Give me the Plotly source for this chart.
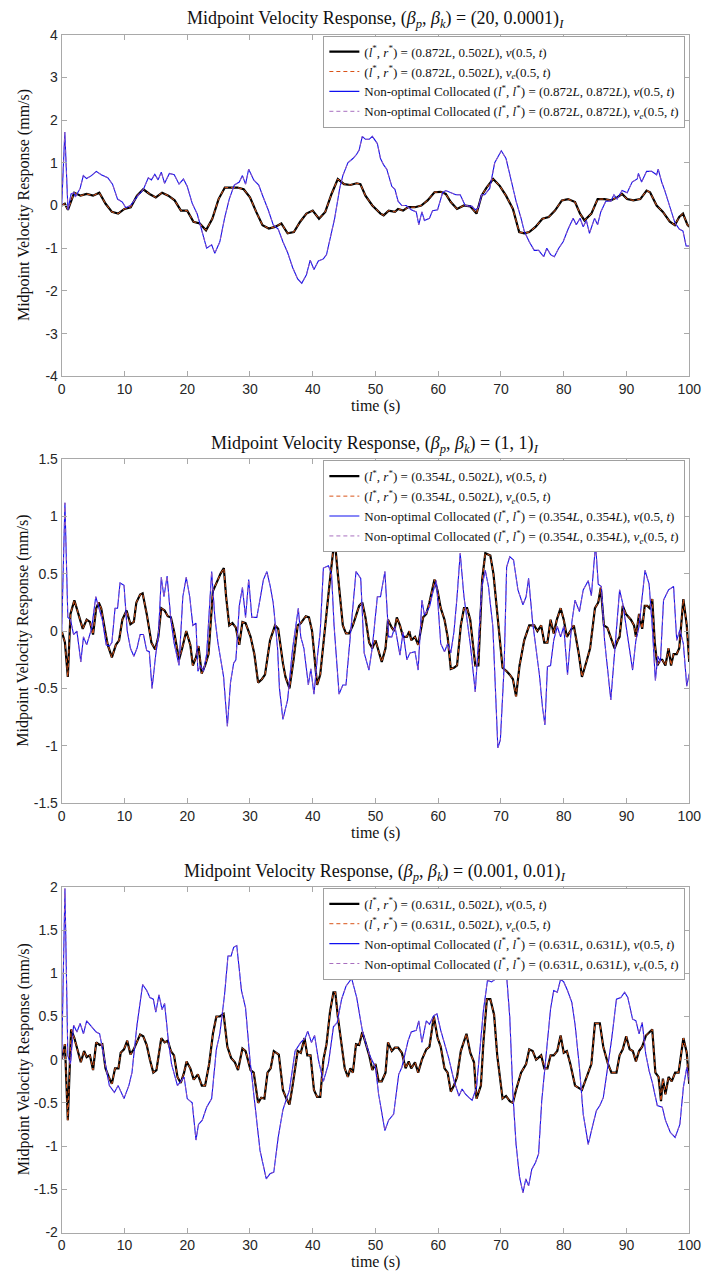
import plotly.graph_objects as go

# ---------------- data ----------------
# Panel 1: (beta_p, beta_k) = (20, 0.0001)
t_opt1 = [0, 0.5, 1, 1.5, 2, 3, 4, 5, 6, 7, 8, 9, 10, 11, 12, 13, 14, 15, 16, 17, 18, 19, 20, 21, 22, 23, 24, 25,
          26, 27, 28, 29, 30, 31, 32, 33, 34, 35, 36, 37, 38, 39, 40, 41, 42, 43, 44, 45, 46, 47, 47.6, 48.4, 49.5,
          50.8, 51.3, 52.1, 53.1, 53.6, 54.4, 55.2, 56.3, 57.3, 58.3, 59.4, 60.4, 61.2, 62, 63, 64.1, 65.1, 66.1,
          66.9, 67.7, 68.75, 69.8, 70.8, 71.9, 72.9, 73.7, 74.5, 75.5, 76.6, 77.6, 78.6, 79.7, 80.7, 81.8, 82.6,
          83.3, 84.4, 85.4, 86.5, 87.5, 88.5, 89.3, 90.1, 91.1, 92.2, 93.2, 93.75, 94.8, 95.8, 96.9, 97.7, 98.4,
          99, 99.7, 100]
v_opt1 = [0, 0.04, -0.1, 0.08, 0.3, 0.23, 0.27, 0.23, 0.3, 0.04, -0.15, -0.19, -0.08, -0.04, 0.23, 0.38, 0.27,
          0.19, 0.3, 0.23, 0.12, -0.12, -0.12, -0.38, -0.42, -0.58, -0.31, 0.15, 0.42, 0.42, 0.42, 0.38, 0.19,
          -0.15, -0.46, -0.54, -0.5, -0.42, -0.65, -0.62, -0.38, -0.19, -0.12, -0.31, -0.15, 0.27, 0.62, 0.5,
          0.48, 0.52, 0.5, 0.23, 0.0, -0.19, -0.23, -0.12, -0.15, -0.08, -0.12, -0.04, -0.04, 0.0, 0.12, 0.31,
          0.32, 0.27, 0.08, -0.08, 0.0, -0.02, -0.19, 0.23, 0.42, 0.62, 0.46, 0.23, -0.08, -0.62, -0.65, -0.62,
          -0.5, -0.31, -0.27, -0.12, 0.12, 0.15, 0.08, -0.19, -0.35, -0.19, 0.15, 0.15, 0.12, 0.19, 0.27, 0.15,
          0.12, 0.15, 0.35, 0.31, 0.0, -0.15, -0.38, -0.46, -0.27, -0.19, -0.45, -0.5]
t_non1 = [0, 0.5, 1, 1.5, 2, 2.17, 2.94, 3.45, 3.97, 4.74, 5.52, 6.3, 7.34, 8.1, 8.9, 9.67, 10.2, 10.96, 12,
          13.03, 13.8, 14.3, 14.84, 15.36, 15.87, 16.4, 17.16, 17.94, 18.7, 19.4, 20, 20.8, 21.6, 22.33, 23.1,
          23.9, 24.4, 25.2, 25.95, 26.7, 27.5, 28.3, 28.8, 29.3, 29.8, 30.6, 31.4, 32.1, 32.9, 33.7, 34.5, 35.25,
          36, 36.8, 37.6, 38.25, 39, 39.6, 40.2, 40.9, 41.7, 42.2, 42.75, 43.5, 44.3, 44.8, 45.6, 46.4, 47.0,
          47.4, 47.9, 48.4, 49.0, 49.5, 50.3, 50.8, 51.3, 51.8, 52.6, 53.1, 53.6, 54.2, 54.9, 55.7, 56.5, 56.9,
          57.4, 57.8, 58.6, 59.1, 59.9, 60.7, 61.2, 62.0, 62.8, 63.5, 64.3, 65.4, 65.9, 66.4, 66.9, 67.4, 68.2,
          69.0, 69.5, 70.05, 70.8, 71.6, 72.4, 73.2, 73.7, 74.5, 75.3, 76.0, 76.8, 77.3, 77.9, 78.5, 79.2, 79.9,
          80.7, 81.5, 82.0, 82.6, 83.1, 83.6, 84.1, 84.9, 85.4, 85.9, 86.7, 87.5, 88.0, 88.5, 89.3, 90.1, 90.9,
          91.7, 91.9, 92.4, 93.2, 94.0, 94.8, 95.05, 95.6, 96.1, 96.9, 97.7, 98.4, 99.0, 99.5, 100]
v_non1 = [0, 1.72, -0.1, 0.27, 0.3, 0.2, 0.4, 0.7, 0.63, 0.7, 0.8, 0.72, 0.65, 0.5, 0.15, 0.08, -0.05, 0.0, 0.2,
          0.38, 0.65, 0.6, 0.73, 0.6, 0.78, 0.52, 0.75, 0.72, 0.5, 0.62, 0.45, 0.05, -0.2, -0.6, -1.0, -0.92,
          -1.12, -0.85, -0.3, 0.15, 0.48, 0.55, 0.7, 0.5, 0.85, 0.6, 0.48, 0.2, -0.1, -0.45, -0.55, -0.85, -1.1,
          -1.45, -1.72, -1.82, -1.62, -1.28, -1.5, -1.3, -1.25, -1.15, -0.8, -0.3, 0.4, 0.7, 1.0, 1.1, 1.2, 1.3,
          1.62, 1.55, 1.55, 1.62, 1.45, 1.1, 0.95, 0.85, 0.45, 0.38, 0.1, 0.0, 0.0, -0.1, -0.15, -0.45, -0.15,
          -0.35, -0.3, -0.12, -0.1, 0.3, 0.35, 0.3, 0.25, 0.25, 0.0, -0.02, -0.1, -0.05, 0.25, 0.25, 0.4, 1.0,
          1.15, 1.28, 1.1, 0.6, 0.1, -0.3, -0.6, -0.85, -1.05, -1.05, -1.2, -1.0, -1.15, -1.2, -1.0, -0.85,
          -0.55, -0.3, -0.45, -0.3, -0.5, -0.35, -0.65, -0.3, -0.45, -0.15, 0.1, 0.1, 0.25, 0.15, 0.35, 0.3,
          0.55, 0.62, 0.75, 0.55, 0.8, 0.8, 0.72, 0.85, 0.55, 0.35, 0.0, -0.4, -0.55, -0.6, -0.95, -0.95]
ve_opt1 = v_opt1
ve_non1 = v_non1

# Panel 2: (beta_p, beta_k) = (1, 1)
t_opt2 = [0, 0.52, 0.98, 1.4, 2.02, 2.69, 3.36, 3.98, 4.5, 5.0, 5.5, 5.9, 6.3, 6.93, 7.34, 8.0, 8.64, 9.15, 9.67,
          10.34, 10.96, 11.5, 11.9, 12.5, 12.9, 13.55, 14.3, 14.9, 15.4, 15.87, 16.4, 16.9, 17.4, 17.9, 18.7,
          19.2, 19.85, 20.5, 20.9, 21.4, 21.8, 22.3, 22.85, 23.4, 24.1, 24.9, 25.3, 25.84, 26.2, 26.7, 27.2,
          27.76, 28.3, 28.8, 29.3, 30.1, 30.7, 31.3, 31.9, 32.4, 33.2, 34.0, 34.5, 35.25, 35.66, 36.3, 36.95,
          37.6, 38.1, 38.9, 39.4, 39.9, 40.7, 41.2, 41.7, 42.2, 42.75, 43.3, 43.6, 44.0, 44.8, 45.3, 45.8, 46.4,
          46.8, 47.4, 47.9, 48.4, 49.0, 49.5, 50.0, 50.5, 51.0, 51.6, 52.0, 52.6, 53.0, 53.4, 53.9, 54.4, 55.0,
          55.4, 55.7, 56.3, 56.8, 57.6, 58.1, 58.6, 59.4, 59.9, 60.4, 61.0, 61.5, 62.0, 62.5, 63.0, 63.6, 64.1,
          64.6, 65.1, 65.9, 66.4, 67.0, 67.5, 68.3, 68.8, 69.6, 70.25, 70.9, 71.4, 71.9, 72.4, 72.96, 73.7, 74.5,
          75.3, 75.8, 76.4, 76.9, 77.4, 77.9, 78.4, 78.9, 79.5, 80.0, 80.5, 81.05, 81.6, 82.4, 82.9, 83.7, 84.2,
          84.97, 85.5, 85.9, 86.4, 86.95, 87.6, 88.1, 88.6, 88.9, 89.4, 89.9, 90.7, 91.2, 91.5, 92.0, 92.5, 92.9,
          93.3, 93.7, 94.1, 94.5, 94.9, 95.4, 95.7, 96.2, 96.7, 97.1, 97.5, 98.0, 98.4, 99.06, 99.6, 100]
v_opt2 = [0, -0.1, -0.4, 0.15, 0.27, 0.15, 0.02, 0.1, 0.08, -0.03, 0.2, 0.25, 0.2, 0.0, -0.12, -0.23, -0.12,
          -0.08, 0.1, 0.18, 0.06, 0.08, 0.25, 0.32, 0.33, 0.15, -0.1, -0.16, -0.05, 0.2, 0.18, 0.13, 0.12, 0.0,
          -0.25, -0.15, 0.0, -0.12, -0.3, -0.23, -0.13, -0.37, -0.3, -0.2, 0.35, 0.45, 0.5, 0.55, 0.3, 0.05,
          0.07, 0.03, -0.12, 0.08, 0.07, -0.05, -0.2, -0.45, -0.42, -0.38, -0.08, 0.05, 0.02, -0.28, -0.4, -0.5,
          -0.25, 0.05, 0.07, 0.13, 0.12, 0.0, -0.47, -0.38, -0.1, 0.15, 0.45, 0.72, 0.74, 0.5, 0.05, -0.02,
          -0.02, 0.05, 0.12, 0.22, 0.25, 0.12, -0.1, -0.15, -0.08, -0.18, -0.27, -0.15, 0.1, 0.03, 0.0, 0.12,
          0.05, -0.05, -0.05, 0.0, -0.08, -0.05, -0.12, 0.12, 0.15, 0.25, 0.45, 0.35, 0.2, 0.1, -0.05, -0.33,
          -0.32, -0.3, 0.05, 0.2, 0.2, 0.1, -0.3, -0.3, 0.45, 0.68, 0.66, 0.5, 0.05, -0.32, -0.35, -0.38, -0.42,
          -0.57, -0.3, -0.08, 0.05, 0.05, 0.0, 0.05, -0.1, -0.1, 0.1, -0.02, 0.1, 0.2, 0.1, -0.05, 0.0, 0.05,
          -0.2, -0.4, -0.25, -0.15, 0.2, 0.25, 0.38, 0.05, 0.03, -0.08, -0.15, -0.08, -0.05, 0.22, 0.15, 0.1,
          0.05, -0.05, 0.15, 0.02, 0.22, 0.22, 0.2, 0.28, -0.1, -0.3, -0.25, -0.25, -0.3, -0.15, -0.3, -0.2,
          -0.2, -0.15, 0.28, 0.05, -0.27]
t_non2 = [0, 0.52, 0.98, 1.4, 1.9, 2.43, 3.05, 3.47, 3.98, 4.76, 5.43, 5.9, 6.47, 7.1, 7.6, 8.0, 8.5, 8.9, 9.3,
          9.93, 10.45, 10.96, 11.5, 12.0, 12.5, 13.03, 13.55, 13.96, 14.4, 15.0, 15.4, 15.87, 16.3, 16.8, 17.4,
          17.9, 18.7, 19.3, 19.85, 20.4, 20.9, 21.4, 21.7, 22.1, 22.6, 23.1, 23.9, 24.4, 24.9, 25.8, 26.4, 26.9,
          27.4, 27.76, 28.3, 28.8, 29.3, 29.8, 30.3, 31.1, 32.15, 32.7, 33.2, 33.7, 34.4, 34.7, 35.25, 36.0,
          36.8, 37.7, 38.1, 38.6, 39.3, 39.7, 40.2, 40.7, 41.2, 41.7, 42.5, 43.0, 43.4, 44.2, 44.8, 45.3, 46.1,
          46.9, 47.65, 48.2, 48.96, 49.5, 50.3, 50.8, 51.5, 52.1, 52.6, 53.1, 53.9, 54.4, 55.0, 55.5, 56.3, 56.8,
          57.4, 57.8, 58.6, 59.1, 59.7, 60.4, 61.0, 61.5, 62.0, 62.5, 63.0, 63.5, 64.1, 64.6, 65.1, 65.9, 66.4,
          66.96, 67.5, 68.0, 68.7, 69.5, 69.9, 70.5, 70.9, 71.4, 72.0, 72.7, 73.5, 74.0, 74.4, 75.05, 76.1, 76.6,
          77.0, 77.4, 77.9, 78.4, 78.97, 79.5, 80.0, 80.6, 81.3, 81.8, 82.5, 83.1, 83.9, 84.4, 85.07, 85.5, 86.0,
          86.5, 87.5, 88.1, 88.9, 89.4, 90.2, 90.97, 91.5, 92.0, 92.5, 92.95, 93.6, 94.1, 94.6, 94.99, 95.4,
          95.9, 96.7, 97.5, 98.0, 98.5, 99.06, 99.6, 100]
v_non2 = [0, 1.12, 0.12, 0.1, -0.03, 0.0, -0.27, -0.05, -0.12, 0.02, 0.3, 0.2, 0.1, -0.12, -0.13, -0.1, 0.2, 0.2,
          0.42, 0.4, 0.0, -0.15, -0.22, -0.15, -0.03, -0.03, -0.17, -0.18, -0.5, -0.2, -0.05, 0.47, 0.3, 0.48,
          0.1, -0.1, -0.3, 0.3, 0.47, 0.3, 0.05, 0.07, -0.35, -0.3, -0.35, -0.2, 0.52, 0.12, -0.1, -0.4, -0.83,
          -0.45, -0.28, -0.25, 0.22, 0.38, 0.12, 0.45, 0.12, 0.12, 0.45, 0.52, 0.4, 0.25, -0.15, -0.5, -0.77,
          -0.6, -0.15, 0.2, -0.05, -0.15, -0.47, -0.33, -0.55, -0.25, 0.0, 0.55, 0.57, 0.5, 0.05, -0.55, -0.47,
          -0.47, 0.02, 0.52, 0.46, -0.19, -0.34, -0.14, 0.3, 0.3, 0.52, -0.05, -0.05, 0.04, -0.21, -0.01, -0.25,
          -0.19, -0.18, -0.34, 0.27, 0.14, 0.21, 0.33, 0.44, -0.11, -0.18, -0.11, -0.19, -0.01, 0.3, 0.68, 0.3,
          0.1, -0.11, -0.53, -0.14, 0.39, 0.53, 0.39, 0.04, -1.02, -0.95, -0.31, 0.56, 0.65, 0.62, 0.36, 0.23,
          0.3, 0.46, 0.07, -0.37, -0.66, -0.82, -0.31, -0.3, -0.08, 0.04, -0.05, 0.04, -0.38, 0.08, 0.27, 0.17,
          0.36, 0.44, 0.31, 0.76, 0.41, 0.39, -0.08, -0.6, -0.19, 0.36, 0.24, -0.08, -0.34, -0.08, 0.04, 0.3,
          0.53, 0.41, 0.04, -0.43, -0.22, -0.27, 0.27, 0.36, 0.39, -0.08, 0.01, -0.11, -0.48, -0.37]
ve_opt2 = v_opt2
ve_non2 = v_non2

# Panel 3: (beta_p, beta_k) = (0.001, 0.01)
t_opt3 = [0, 0.26, 0.52, 0.98, 1.5, 2.02, 2.54, 3.05, 3.57, 3.98, 4.5, 5.0, 5.5, 6.05, 6.47, 6.98, 7.5, 8.0, 8.5,
          9.05, 9.4, 9.93, 10.45, 10.96, 11.48, 12.0, 12.5, 13.0, 13.55, 14.06, 14.6, 15.1, 15.87, 16.4, 16.9,
          17.4, 17.9, 18.45, 18.97, 19.5, 19.9, 20.5, 21.04, 21.7, 22.33, 22.85, 23.5, 24.1, 24.65, 25.2, 25.8,
          26.4, 27.0, 27.6, 28.1, 28.8, 29.3, 30.1, 30.6, 31.3, 31.8, 32.3, 32.8, 33.3, 33.8, 34.6, 35.25, 35.8,
          36.3, 36.8, 37.6, 38.1, 38.7, 39.14, 39.65, 40.2, 40.7, 41.2, 41.7, 42.2, 42.75, 43.3, 43.6, 44.0,
          44.6, 45.1, 45.6, 46.0, 46.4, 46.9, 47.4, 47.9, 48.4, 49.0, 49.5, 50.0, 50.5, 51.0, 51.6, 52.0, 52.6,
          53.1, 53.6, 54.2, 54.8, 55.3, 55.7, 56.3, 56.8, 57.4, 58.1, 58.6, 59.3, 59.9, 60.4, 61.0, 61.5, 62.0,
          62.5, 63.0, 63.6, 64.1, 64.5, 65.1, 65.7, 66.1, 66.8, 67.2, 67.75, 68.3, 68.9, 69.4, 70.25, 70.8, 71.4,
          71.9, 72.4, 73.2, 74.0, 74.5, 75.05, 75.6, 76.4, 76.9, 77.4, 77.9, 78.4, 78.97, 79.5, 80.0, 80.5, 81.05,
          81.8, 82.9, 83.7, 84.4, 84.97, 85.75, 86.3, 87.05, 87.6, 88.4, 88.9, 89.4, 89.95, 90.5, 91.0, 91.5,
          92.0, 92.5, 93.1, 93.6, 94.1, 94.6, 95.1, 95.5, 95.8, 96.2, 96.7, 97.2, 97.75, 98.3, 98.6, 99.06, 99.6,
          100]
v_opt3 = [0, 0.1, 0.18, -0.7, 0.35, 0.25, 0.1, -0.03, 0.1, 0.03, 0.05, -0.12, 0.2, 0.17, 0.18, -0.1, -0.2, -0.28,
          -0.1, -0.1, 0.08, 0.12, 0.22, 0.06, 0.12, 0.2, 0.29, 0.27, 0.17, 0.0, -0.15, -0.12, 0.25, 0.2, 0.22,
          0.1, 0.05, -0.2, -0.27, -0.15, -0.02, -0.1, -0.23, -0.17, -0.3, -0.3, -0.05, 0.3, 0.5, 0.5, 0.53, 0.15,
          0.02, -0.03, -0.12, 0.13, 0.1, -0.12, -0.15, -0.5, -0.44, -0.45, -0.15, -0.1, 0.1, 0.06, -0.35, -0.45,
          -0.52, -0.3, 0.1, 0.08, 0.25, 0.05, 0.05, -0.35, -0.43, -0.43, 0.0, 0.18, 0.55, 0.78, 0.78, 0.5, 0.15,
          -0.1, -0.2, -0.1, -0.15, 0.18, 0.17, 0.32, 0.2, 0.05, -0.12, -0.05, -0.25, -0.25, -0.15, 0.2, 0.1, 0.14,
          0.14, 0.08, -0.1, -0.02, -0.1, -0.03, -0.15, 0.0, 0.12, 0.15, 0.5, 0.25, 0.15, -0.1, -0.15, -0.37,
          -0.3, -0.2, 0.1, 0.2, 0.3, 0.08, -0.03, -0.45, -0.3, 0.2, 0.7, 0.7, 0.52, 0.05, -0.45, -0.42, -0.48,
          -0.5, -0.35, -0.15, -0.05, 0.12, 0.1, 0.0, 0.05, -0.1, -0.1, 0.05, 0.05, 0.1, 0.28, 0.08, 0.1, -0.05,
          -0.3, -0.35, -0.2, -0.05, 0.42, 0.42, 0.15, -0.05, -0.15, -0.15, 0.05, 0.12, 0.27, 0.12, 0.1, -0.02,
          0.1, 0.15, 0.28, 0.32, 0.35, -0.15, -0.2, -0.48, -0.22, -0.4, -0.2, -0.25, -0.15, -0.15, 0.0, 0.25,
          0.08, -0.28]
t_non3 = [0, 0.52, 0.98, 1.4, 1.9, 2.43, 2.94, 3.47, 3.98, 4.76, 5.5, 6.05, 6.83, 7.6, 8.4, 9.0, 9.93, 10.7, 11.2,
          12.0, 12.9, 13.55, 14.06, 14.6, 15.0, 15.5, 16.0, 16.4, 17.0, 17.5, 18.45, 19.5, 20.0, 20.8, 21.4,
          21.8, 22.4, 23.1, 23.9, 24.65, 25.2, 25.95, 26.5, 27.0, 27.4, 27.9, 28.65, 29.3, 30.0, 30.7, 31.6,
          32.6, 33.2, 33.8, 34.5, 35.25, 36.3, 37.2, 38.1, 38.8, 39.2, 39.8, 40.3, 40.9, 41.7, 42.5, 43.3, 43.9,
          44.6, 45.3, 46.2, 47.0, 47.9, 48.5, 49.2, 50.0, 50.5, 51.5, 52.1, 52.9, 53.7, 54.2, 54.7, 55.2, 55.7,
          56.5, 56.9, 57.4, 58.1, 58.6, 59.3, 59.8, 60.4, 61.0, 61.7, 62.5, 63.3, 63.8, 64.35, 64.9, 65.4, 66.1,
          66.6, 67.2, 67.85, 68.5, 69.05, 69.6, 70.1, 70.9, 71.4, 71.9, 72.4, 72.96, 73.5, 73.96, 74.4, 74.9,
          75.5, 75.99, 76.5, 77.1, 77.9, 78.4, 78.97, 79.5, 80.0, 80.6, 81.3, 81.8, 82.5, 83.1, 83.9, 84.55,
          85.2, 85.75, 86.3, 86.8, 87.6, 88.4, 89.1, 89.7, 90.2, 90.97, 91.5, 92.0, 92.5, 93.06, 93.6, 94.1,
          94.9, 95.7, 96.2, 96.97, 97.75, 98.5, 99.06, 99.6, 100]
v_non3 = [0, 1.98, 0.05, -0.05, 0.4, 0.32, 0.42, 0.3, 0.45, 0.38, 0.32, 0.3, 0.0, -0.3, -0.38, -0.3, -0.45, -0.3,
          -0.15, 0.4, 0.87, 0.8, 0.72, 0.7, 0.55, 0.75, 0.58, 0.65, 0.22, -0.05, -0.3, -0.2, -0.45, -0.5, -0.93,
          -0.75, -0.7, -0.55, -0.45, 0.12, 0.3, 0.75, 1.2, 1.2, 1.3, 1.32, 0.8, 0.6, 0.0, -0.45, -1.05, -1.38,
          -1.32, -1.3, -0.9, -0.58, -0.35, 0.1, 0.2, 0.25, 0.33, 0.2, 0.28, 0.0, -0.25, -0.05, 0.38, 0.43, 0.7,
          0.85, 0.94, 0.72, 0.34, 0.18, 0.03, -0.09, -0.4, -0.82, -0.7, -0.63, -0.17, -0.09, 0.07, 0.22, 0.32,
          0.34, 0.45, 0.2, 0.45, 0.41, 0.51, 0.53, 0.34, 0.2, 0.01, -0.24, -0.42, -0.34, -0.4, -0.44, -0.47,
          -0.32, 0.07, 0.57, 0.92, 0.9, 0.93, 1.03, 1.09, 0.97, 0.49, -0.4, -0.98, -1.36, -1.54, -1.38, -1.46,
          -1.27, -1.19, -1.09, -0.47, 0.01, 0.59, 0.8, 0.78, 0.93, 0.9, 0.8, 0.66, 0.41, -0.09, -0.63, -0.98,
          -0.78, -0.59, -0.53, -0.44, -0.19, 0.22, 0.7, 0.72, 0.78, 0.72, 0.47, 0.45, 0.3, 0.43, 0.07, -0.13,
          -0.26, -0.53, -0.55, -0.7, -0.84, -0.9, -0.75, -0.32, -0.09, -0.24]
ve_opt3 = v_opt3
ve_non3 = v_non3

titles = ["(20, 0.0001)", "(1, 1)", "(0.001, 0.01)"]
l_opt = ["0.872", "0.354", "0.631"]
r_opt = "0.502"
y_ranges = [(-4, 4), (-1.5, 1.5), (-2, 2)]
y_tickvals = [[-4, -3, -2, -1, 0, 1, 2, 3, 4],
              [-1.5, -1, -0.5, 0, 0.5, 1, 1.5],
              [-2, -1.5, -1, -0.5, 0, 0.5, 1, 1.5, 2]]
y_ticktext = [["-4", "-3", "-2", "-1", "0", "1", "2", "3", "4"],
              ["-1.5", "-1", "-0.5", "0", "0.5", "1", "1.5"],
              ["-2", "-1.5", "-1", "-0.5", "0", "0.5", "1", "1.5", "2"]]
x_tickvals = [0, 10, 20, 30, 40, 50, 60, 70, 80, 90, 100]

series = [
    (t_opt1, v_opt1, ve_opt1, t_non1, v_non1, ve_non1),
    (t_opt2, v_opt2, ve_opt2, t_non2, v_non2, ve_non2),
    (t_opt3, v_opt3, ve_opt3, t_non3, v_non3, ve_non3),
]

# ---------------- layout geometry (pixels) ----------------
W, H = 713, 1280
x_left, x_right = 59, 701
panels_px = [(27, 373), (457, 805), (890, 1240)]
xlabel_gap = [30, 30, 30]

SERIF = "Liberation Serif, Times New Roman, serif"
SANS = "Liberation Sans, Arial, Helvetica, sans-serif"
AXC = "#a9a9a9"

def py(px):
    return 1 - px / H

fig = go.Figure()
layout = dict(width=W, height=H, margin=dict(l=0, r=0, t=0, b=0),
              paper_bgcolor="white", plot_bgcolor="white", showlegend=True)
annotations = []

for i in range(3):
    k = "" if i == 0 else str(i + 1)
    xa, ya = "x" + k, "y" + k
    lg = "legend" + k
    t_o, v_o, ve_o, t_n, v_n, ve_n = series[i]
    L = l_opt[i]
    names = [
        f"(<i>l</i><sup>*</sup>, <i>r</i><sup>*</sup>) = ({L}<i>L</i>, {r_opt}<i>L</i>), <i>v</i>(0.5, <i>t</i>)",
        f"(<i>l</i><sup>*</sup>, <i>r</i><sup>*</sup>) = ({L}<i>L</i>, {r_opt}<i>L</i>), <i>v<sub>e</sub></i>(0.5, <i>t</i>)",
        f"Non-optimal Collocated (<i>l</i><sup>*</sup>, <i>l</i><sup>*</sup>) = ({L}<i>L</i>, {L}<i>L</i>), <i>v</i>(0.5, <i>t</i>)",
        f"Non-optimal Collocated (<i>l</i><sup>*</sup>, <i>l</i><sup>*</sup>) = ({L}<i>L</i>, {L}<i>L</i>), <i>v<sub>e</sub></i>(0.5, <i>t</i>)",
    ]
    fig.add_trace(go.Scatter(x=t_o, y=v_o, mode="lines", name=names[0], xaxis=xa, yaxis=ya, legend=lg,
                             line=dict(color="#000000", width=2.2)))
    fig.add_trace(go.Scatter(x=t_o, y=ve_o, mode="lines", name=names[1], xaxis=xa, yaxis=ya, legend=lg,
                             line=dict(color="#D95319", width=1, dash="4px,3px")))
    fig.add_trace(go.Scatter(x=t_n, y=v_n, mode="lines", name=names[2], xaxis=xa, yaxis=ya, legend=lg,
                             line=dict(color="#1010F0", width=1.1)))
    fig.add_trace(go.Scatter(x=t_n, y=ve_n, mode="lines", name=names[3], xaxis=xa, yaxis=ya, legend=lg,
                             line=dict(color="#9E5FB8", width=0.9, dash="4px,3px")))

    top, bot = panels_px[i]
    common = dict(showline=True, linecolor=AXC, linewidth=1, mirror="ticks", ticks="inside",
                  ticklen=5, tickcolor=AXC, showgrid=False, zeroline=False,
                  ticklabeloverflow="allow",
                  tickfont=dict(family=SANS, size=14, color="#262626"))
    layout["xaxis" + k] = dict(domain=[x_left / W, x_right / W], range=[0, 100], anchor=ya,
                               tickvals=x_tickvals, ticktext=[str(v) for v in x_tickvals], **common)
    layout["yaxis" + k] = dict(domain=[py(bot), py(top)], range=list(y_ranges[i]), anchor=xa,
                               tickvals=y_tickvals[i], ticktext=y_ticktext[i], **common)
    layout[lg] = dict(x=697 / W, xanchor="right", y=py(top + 1), yanchor="top",
                      bgcolor="white", bordercolor="#a0a0a0", borderwidth=1,
                      font=dict(family=SERIF, size=13, color="#111111"),
                      tracegroupgap=0, itemwidth=30)

    # panel title
    annotations.append(dict(xref="paper", yref="paper", x=(x_left + x_right) / 2 / W, y=py(top - 15),
                            xanchor="center", yanchor="middle", showarrow=False,
                            text=f"Midpoint Velocity Response, (<i>β<sub>p</sub></i>, <i>β<sub>k</sub></i>)&nbsp;=&nbsp;{titles[i]}<sub><i>I</i></sub>",
                            font=dict(family=SERIF, size=18, color="#111111")))
    # x label
    annotations.append(dict(xref="paper", yref="paper", x=(x_left + x_right) / 2 / W,
                            y=py(bot + xlabel_gap[i]),
                            xanchor="center", yanchor="middle", showarrow=False,
                            text="time (s)", font=dict(family=SERIF, size=16, color="#111111")))
    # y label
    annotations.append(dict(xref="paper", yref="paper", x=20 / W, y=py((top + bot) / 2),
                            xanchor="center", yanchor="middle", showarrow=False, textangle=-90,
                            text="Midpoint Velocity Response (mm/s)",
                            font=dict(family=SERIF, size=16, color="#111111")))

layout["annotations"] = annotations
fig.update_layout(**layout)
fig.write_html("out.html")
